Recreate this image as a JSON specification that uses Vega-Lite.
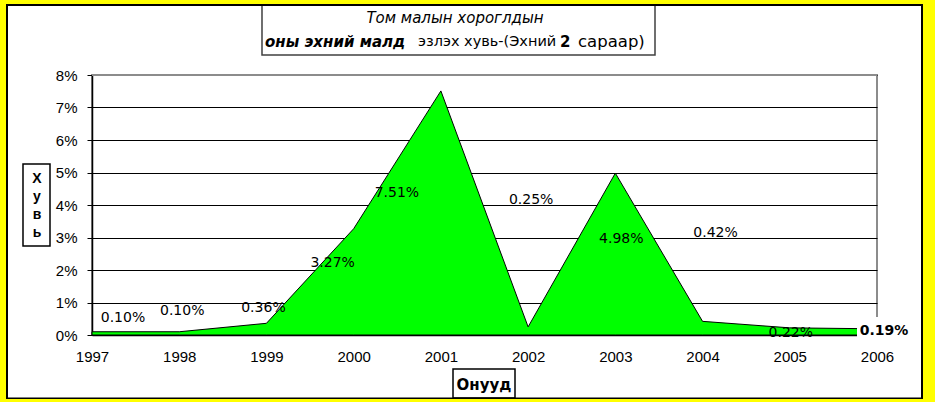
{
  "$schema": "https://vega.github.io/schema/vega-lite/v6.json",
  "width": 785,
  "height": 260,
  "autosize": {"type": "none"},
  "padding": {"left": 92, "top": 75, "right": 58, "bottom": 67},
  "background": "#ffffff",
  "config": {
    "font": "Liberation Sans",
    "view": {"stroke": "#8c8c8c", "strokeWidth": 2, "fill": "#ffffff"},
    "text": {"font": "DejaVu Sans", "fontSize": 14, "color": "#000000"}
  },
  "resolve": {"axis": {"x": "independent", "y": "independent"}},
  "data": {
    "values": [
      {"year": 1997, "share": 0.001},
      {"year": 1998, "share": 0.001},
      {"year": 1999, "share": 0.0036},
      {"year": 2000, "share": 0.0327},
      {"year": 2001, "share": 0.0751},
      {"year": 2002, "share": 0.0025},
      {"year": 2003, "share": 0.0498},
      {"year": 2004, "share": 0.0042},
      {"year": 2005, "share": 0.0022},
      {"year": 2006, "share": 0.0019}
    ]
  },
  "layer": [
    {
      "mark": {"type": "area", "color": "#00ff00", "fill": "#00ff00", "stroke": "#000000", "strokeWidth": 1, "interpolate": "linear"},
      "encoding": {
        "x": {"field": "year", "type": "quantitative",
          "scale": {"domain": [1997, 2006], "nice": false, "zero": false},
          "axis": {"title": null, "values": [1997,1998,1999,2000,2001,2002,2003,2004,2005,2006], "format": "d",
            "labelFontSize": 15, "labelColor": "#000000", "labelFont": "Liberation Sans", "ticks": false, "labelPadding": 14,
            "domainColor": "#000000", "domainWidth": 1.5, "grid": false, "labelFlush": false, "labelOverlap": false}},
        "y": {"field": "share", "type": "quantitative",
          "scale": {"domain": [0, 0.08], "nice": false, "zero": true},
          "axis": {"title": null, "values": [0, 0.01, 0.02, 0.03, 0.04, 0.05, 0.06, 0.07, 0.08], "format": ".0%",
            "labelFontSize": 15, "labelColor": "#000000", "labelFont": "Liberation Sans", "tickSize": 5, "tickColor": "#000000",
            "labelPadding": 10, "domainColor": "#000000", "domainWidth": 1.5, "grid": true, "gridColor": "#000000",
            "gridWidth": 1, "labelFlush": false, "labelOverlap": false}}
      }
    },
    {"data": {"values": [{}]}, "mark": {"type": "rule", "color": "#8c8c8c", "strokeWidth": 2},
      "encoding": {"x": {"datum": 1997, "type": "quantitative", "axis": null}, "x2": {"datum": 2006},
        "y": {"datum": 0.08, "type": "quantitative", "axis": null}}},
    {"transform": [{"filter": "datum.year == 1997"}], "mark": {"type": "text", "dx": 31, "dy": -14},
      "encoding": {"x": {"field": "year", "type": "quantitative", "axis": null}, "y": {"field": "share", "type": "quantitative", "axis": null}, "text": {"field": "share", "type": "quantitative", "format": ".2%"}}},
    {"transform": [{"filter": "datum.year == 1998"}], "mark": {"type": "text", "dx": 3, "dy": -21},
      "encoding": {"x": {"field": "year", "type": "quantitative", "axis": null}, "y": {"field": "share", "type": "quantitative", "axis": null}, "text": {"field": "share", "type": "quantitative", "format": ".2%"}}},
    {"transform": [{"filter": "datum.year == 1999"}], "mark": {"type": "text", "dx": -3, "dy": -15},
      "encoding": {"x": {"field": "year", "type": "quantitative", "axis": null}, "y": {"field": "share", "type": "quantitative", "axis": null}, "text": {"field": "share", "type": "quantitative", "format": ".2%"}}},
    {"transform": [{"filter": "datum.year == 2000"}], "mark": {"type": "text", "dx": -21, "dy": 34},
      "encoding": {"x": {"field": "year", "type": "quantitative", "axis": null}, "y": {"field": "share", "type": "quantitative", "axis": null}, "text": {"field": "share", "type": "quantitative", "format": ".2%"}}},
    {"transform": [{"filter": "datum.year == 2001"}], "mark": {"type": "text", "dx": -44, "dy": 102},
      "encoding": {"x": {"field": "year", "type": "quantitative", "axis": null}, "y": {"field": "share", "type": "quantitative", "axis": null}, "text": {"field": "share", "type": "quantitative", "format": ".2%"}}},
    {"transform": [{"filter": "datum.year == 2002"}], "mark": {"type": "text", "dx": 3, "dy": -127},
      "encoding": {"x": {"field": "year", "type": "quantitative", "axis": null}, "y": {"field": "share", "type": "quantitative", "axis": null}, "text": {"field": "share", "type": "quantitative", "format": ".2%"}}},
    {"transform": [{"filter": "datum.year == 2003"}], "mark": {"type": "text", "dx": 6, "dy": 66},
      "encoding": {"x": {"field": "year", "type": "quantitative", "axis": null}, "y": {"field": "share", "type": "quantitative", "axis": null}, "text": {"field": "share", "type": "quantitative", "format": ".2%"}}},
    {"transform": [{"filter": "datum.year == 2004"}], "mark": {"type": "text", "dx": 13, "dy": -88},
      "encoding": {"x": {"field": "year", "type": "quantitative", "axis": null}, "y": {"field": "share", "type": "quantitative", "axis": null}, "text": {"field": "share", "type": "quantitative", "format": ".2%"}}},
    {"transform": [{"filter": "datum.year == 2005"}], "mark": {"type": "text", "dx": 1, "dy": 5},
      "encoding": {"x": {"field": "year", "type": "quantitative", "axis": null}, "y": {"field": "share", "type": "quantitative", "axis": null}, "text": {"field": "share", "type": "quantitative", "format": ".2%"}}},
    {"data": {"values": [{}]}, "mark": {"type": "rect", "fill": "#ffffff", "strokeWidth": 0},
      "encoding": {"x": {"datum": 2005.7707, "type": "quantitative", "axis": null}, "x2": {"datum": 2006.39},
        "y": {"datum": 0.005538, "type": "quantitative", "axis": null}, "y2": {"datum": -0.0022}}},
    {"transform": [{"filter": "datum.year == 2006"}], "mark": {"type": "text", "dx": 7, "dy": 2, "fontWeight": "bold"},
      "encoding": {"x": {"field": "year", "type": "quantitative", "axis": null}, "y": {"field": "share", "type": "quantitative", "axis": null}, "text": {"field": "share", "type": "quantitative", "format": ".2%"}}},
    {"data": {"values": [{}]}, "mark": {"type": "rect", "fill": "#ffffff", "stroke": "#404040", "strokeWidth": 1.5},
      "encoding": {"x": {"datum": 1998.949, "type": "quantitative", "axis": null}, "x2": {"datum": 2003.4548},
        "y": {"datum": 0.101538, "type": "quantitative", "axis": null}, "y2": {"datum": 0.086154}}},
    {"data": {"values": [{}]}, "mark": {"type": "text", "fontSize": 15, "fontStyle": "italic", "align": "center", "text": "Том малын  хороглдын"},
      "encoding": {"x": {"datum": 2001.1618, "type": "quantitative", "axis": null}, "y": {"datum": 0.097538, "type": "quantitative", "axis": null}}},
    {"data": {"values": [{}]}, "mark": {"type": "text", "fontSize": 15, "fontStyle": "italic", "fontWeight": "bold", "align": "left", "text": "оны эхний малд"},
      "encoding": {"x": {"datum": 1998.9834, "type": "quantitative", "axis": null}, "y": {"datum": 0.090154, "type": "quantitative", "axis": null}}},
    {"data": {"values": [{}]}, "mark": {"type": "text", "fontSize": 14.5, "align": "left", "text": "эзлэх хувь-(Эхний"},
      "encoding": {"x": {"datum": 2000.7376, "type": "quantitative", "axis": null}, "y": {"datum": 0.090154, "type": "quantitative", "axis": null}}},
    {"data": {"values": [{}]}, "mark": {"type": "text", "fontSize": 15, "align": "left", "fontWeight": "bold", "text": "2"},
      "encoding": {"x": {"datum": 2002.3656, "type": "quantitative", "axis": null}, "y": {"datum": 0.090154, "type": "quantitative", "axis": null}}},
    {"data": {"values": [{}]}, "mark": {"type": "text", "fontSize": 16.5, "align": "left", "text": "сараар)"},
      "encoding": {"x": {"datum": 2002.572, "type": "quantitative", "axis": null}, "y": {"datum": 0.090154, "type": "quantitative", "axis": null}}},
    {"data": {"values": [{}]}, "mark": {"type": "rect", "fill": "#ffffff", "stroke": "#000000", "strokeWidth": 1.5},
      "encoding": {"x": {"datum": 1996.2089, "type": "quantitative", "axis": null}, "x2": {"datum": 1996.5185},
        "y": {"datum": 0.052615, "type": "quantitative", "axis": null}, "y2": {"datum": 0.027385}}},
    {"data": {"values": [{}]}, "mark": {"type": "text", "font": "Liberation Sans", "align": "center", "baseline": "alphabetic", "fontWeight": "bold", "lineHeight": 18, "text": ["Х", "у", "в", "ь"]},
      "encoding": {"x": {"datum": 1996.3694, "type": "quantitative", "axis": null}, "y": {"datum": 0.046769, "type": "quantitative", "axis": null}}},
    {"data": {"values": [{}]}, "mark": {"type": "rect", "fill": "#ffffff", "stroke": "#000000", "strokeWidth": 1.5},
      "encoding": {"x": {"datum": 2001.1389, "type": "quantitative", "axis": null}, "x2": {"datum": 2001.8497},
        "y": {"datum": -0.010462, "type": "quantitative", "axis": null}, "y2": {"datum": -0.019385}}},
    {"data": {"values": [{}]}, "mark": {"type": "text", "fontSize": 15, "align": "center", "fontWeight": "bold", "text": "Онууд"},
      "encoding": {"x": {"datum": 2001.4943, "type": "quantitative", "axis": null}, "y": {"datum": -0.015385, "type": "quantitative", "axis": null}}},
    {"data": {"values": [{}]}, "mark": {"type": "rect", "fill": null, "fillOpacity": 0, "stroke": "#000000", "strokeWidth": 2},
      "encoding": {"x": {"datum": 1996.0255, "type": "quantitative", "axis": null}, "x2": {"datum": 2006.5159},
        "y": {"datum": 0.101538, "type": "quantitative", "axis": null}, "y2": {"datum": -0.019538}}},
    {"data": {"values": [{}]}, "mark": {"type": "rect", "fill": null, "fillOpacity": 0, "stroke": "#ffff00", "strokeWidth": 32},
      "encoding": {"x": {"datum": 1995.8306, "type": "quantitative", "axis": null}, "x2": {"datum": 2006.7108},
        "y": {"datum": 0.106769, "type": "quantitative", "axis": null}, "y2": {"datum": -0.024615}}}
  ]
}
